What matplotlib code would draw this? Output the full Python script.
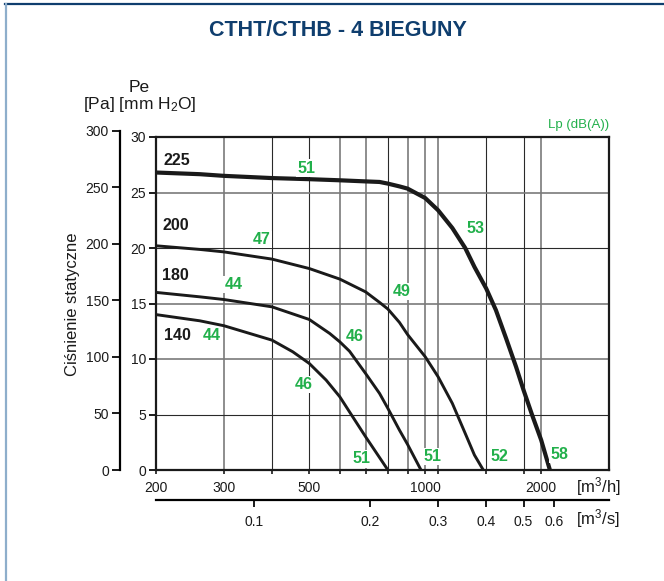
import matplotlib
matplotlib.use("Agg")
import matplotlib.pyplot as plt
from matplotlib.ticker import FixedLocator, NullFormatter, FixedFormatter
from matplotlib.lines import Line2D

plt.rcParams['font.family'] = ['Liberation Sans', 'DejaVu Sans']
plt.rcParams['mathtext.default'] = 'regular'

# fan curves: flow [m3/h] vs static pressure [mm H2O]
q_225 = [200, 260, 300, 400, 500, 600, 700, 761, 800, 857, 900, 1000, 1080, 1176, 1270, 1342,
         1440, 1526, 1622, 1721, 1800, 1897, 2000, 2107]
p_225 = [26.8, 26.65, 26.5, 26.3, 26.2, 26.1, 26.0, 25.95, 25.8, 25.55, 25.35, 24.5, 23.4, 21.8, 20.0, 18.3,
         16.35, 14.4, 11.85, 9.3, 7.2, 4.9, 2.7, 0.0]

q_200 = [200, 260, 300, 400, 500, 600, 700, 761, 800, 857, 900, 1000, 1080, 1176, 1270, 1342, 1415]
p_200 = [20.2, 19.87, 19.65, 19.0, 18.15, 17.2, 16.05, 15.1, 14.5, 13.3, 12.2, 10.2, 8.4, 6.0, 3.3, 1.35, 0.0]

q_180 = [200, 260, 300, 400, 500, 565, 600, 636, 700, 761, 800, 857, 900, 975]
p_180 = [16.0, 15.6, 15.36, 14.7, 13.56, 12.3, 11.55, 10.7, 8.7, 6.9, 5.55, 3.6, 2.3, 0.0]

q_140 = [200, 260, 300, 400, 453, 500, 553, 600, 648, 700, 745, 800]
p_140 = [14.0, 13.44, 13.0, 11.7, 10.65, 9.6, 8.1, 6.6, 4.8, 3.0, 1.6, 0.0]

# noise levels Lp dB(A) along the curves: (text, flow, pressure)
lp_labels = [("51", 492, 27.2), ("53", 1349, 21.8), ("58", 2227, 1.4),
             ("47", 376, 20.8), ("49", 867, 16.1), ("52", 1557, 1.2),
             ("44", 318, 16.7), ("46", 656, 12.0), ("51", 1044, 1.2),
             ("44", 279, 12.1), ("46", 483, 7.7), ("51", 683, 1.0)]
size_labels = [("225", 227, 27.9), ("200", 225, 22.0), ("180", 225, 17.5), ("140", 227, 12.1)]

q_ticks = [200, 300, 500, 1000, 2000]
q_grid_dark = [400, 500, 800, 1440, 1800]
q_grid_gray = [300, 600, 700, 900, 1000, 1080, 2000]
p_grid_dark = [5, 20]
p_grid_gray = [10, 15, 25]
s_ticks = [0.1, 0.2, 0.3, 0.4, 0.5, 0.6]
pa_ticks = [0, 50, 100, 150, 200, 250, 300]

W, H = 664, 581
fig = plt.figure(figsize=(W / 100, H / 100), dpi=100)

# frame lines of the sheet
fig.add_artist(Line2D([5 / W, 1], [1 - 4 / H, 1 - 4 / H], transform=fig.transFigure, color='#0f3e6e', lw=1.6))
fig.add_artist(Line2D([6 / W, 6 / W], [0, 1 - 4 / H], transform=fig.transFigure, color='#8eaecb', lw=1.6))

fig.text(338 / W, 1 - 30 / H, "CTHT/CTHB - 4 BIEGUNY", fontsize=15.5, fontweight='bold',
         color='#0f3e6e', ha='center', va='center')

ax = fig.add_axes([156 / W, 111 / H, 453 / W, 333 / H])
ax.set_xscale('log')
ax.set_xlim(200, 3000)
ax.set_ylim(0, 30)

for q in q_grid_gray:
    ax.axvline(q, color='#7a7a7a', lw=1.2, zorder=1)
for q in q_grid_dark:
    ax.axvline(q, color='#2a2a2a', lw=0.8, zorder=1)
for p in p_grid_gray:
    ax.axhline(p, color='#7a7a7a', lw=1.2, zorder=1)
for p in p_grid_dark:
    ax.axhline(p, color='#2a2a2a', lw=0.8, zorder=1)

ax.plot(q_225, p_225, color='#1a1a1a', lw=3.0, zorder=3, solid_joinstyle='round')
ax.plot(q_200, p_200, color='#1a1a1a', lw=2.1, zorder=3, solid_joinstyle='round')
ax.plot(q_180, p_180, color='#1a1a1a', lw=2.1, zorder=3, solid_joinstyle='round')
ax.plot(q_140, p_140, color='#1a1a1a', lw=2.1, zorder=3, solid_joinstyle='round')

for txt, q, p in lp_labels:
    ax.text(q, p, txt, fontsize=11.5, fontweight='bold', color='#22b04b',
            ha='center', va='center', zorder=4,
            bbox=dict(facecolor='white', edgecolor='none', pad=0.8))
for txt, q, p in size_labels:
    ax.text(q, p, txt, fontsize=11.5, fontweight='bold', color='#1a1a1a',
            ha='center', va='center', zorder=4)

for s in ax.spines.values():
    s.set_linewidth(1.6)
    s.set_color('#1a1a1a')
ax.set_yticks(range(0, 31, 5))
ax.tick_params(axis='y', direction='out', length=5, width=1.4, labelsize=10, pad=2, colors='#1a1a1a')
ax.xaxis.set_major_locator(FixedLocator(q_ticks))
ax.xaxis.set_major_formatter(FixedFormatter([str(q) for q in q_ticks]))
ax.xaxis.set_minor_locator(FixedLocator(sorted(q_grid_dark + q_grid_gray)))
ax.xaxis.set_minor_formatter(NullFormatter())
ax.tick_params(axis='x', which='both', direction='out', length=3, width=1.2, labelsize=10, pad=5, colors='#1a1a1a')

# Pa scale on the left
ax_pa = fig.add_axes([120 / W, 111 / H, 0.001, 333 * 300 / (30 * 9.81) / H])
ax_pa.set_ylim(0, 300)
ax_pa.patch.set_visible(False)
for k in ['top', 'right', 'bottom']:
    ax_pa.spines[k].set_visible(False)
ax_pa.spines['left'].set_linewidth(1.6)
ax_pa.set_xticks([])
ax_pa.set_yticks(pa_ticks)
ax_pa.tick_params(axis='y', direction='out', length=6, width=1.4, labelsize=10, pad=2, colors='#1a1a1a')

# m3/s scale below
ax_s = fig.add_axes([156 / W, 81 / H, 453 / W, 0.001])
ax_s.set_xscale('log')
ax_s.set_xlim(200 / 3600, 3000 / 3600)
ax_s.patch.set_visible(False)
for k in ['top', 'right', 'left']:
    ax_s.spines[k].set_visible(False)
ax_s.spines['bottom'].set_linewidth(1.6)
ax_s.set_yticks([])
ax_s.xaxis.set_major_locator(FixedLocator(s_ticks))
ax_s.xaxis.set_major_formatter(FixedFormatter([str(s) for s in s_ticks]))
ax_s.xaxis.set_minor_locator(FixedLocator([]))
ax_s.tick_params(axis='x', direction='out', length=5, width=1.4, labelsize=10, pad=6, colors='#1a1a1a')

fig.text(139 / W, 1 - 87 / H, "Pe", fontsize=12.5, color='#1a1a1a', ha='center', va='center')
fig.text(140 / W, 1 - 105 / H, "[Pa] [mm H$_2$O]", fontsize=12.5, color='#1a1a1a', ha='center', va='center')
fig.text(72 / W, 1 - 304 / H, "Ciśnienie statyczne", fontsize=12, color='#1a1a1a', rotation=90,
         ha='center', va='center')
fig.text(579 / W, 1 - 125 / H, "Lp (dB(A))", fontsize=9.5, color='#22b04b', ha='center', va='center')
fig.text(598 / W, 1 - 487 / H, "[m$^3$/h]", fontsize=12, color='#1a1a1a', ha='center', va='center')
fig.text(598 / W, 1 - 519 / H, "[m$^3$/s]", fontsize=12, color='#1a1a1a', ha='center', va='center')

fig.savefig("out.png", dpi=100)
